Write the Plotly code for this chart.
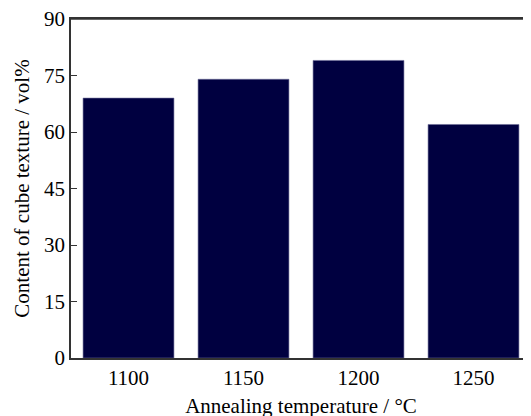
import plotly.graph_objects as go

temperatures = ["1100", "1150", "1200", "1250"]
cube_content = [69, 74, 79, 62]
y_ticks = [0, 15, 30, 45, 60, 75, 90]

fig = go.Figure()
fig.add_trace(go.Bar(
    x=temperatures,
    y=cube_content,
    marker=dict(color="#000040", line=dict(color="#6a6a96", width=0.6)),
))

# the page body has an 8px default margin; margins below compensate for it
font_family = "Liberation Serif, Times New Roman, serif"
fig.update_layout(
    width=531, height=416,
    margin=dict(l=63, r=8, t=11, b=66),
    paper_bgcolor="white", plot_bgcolor="white",
    bargap=0.21,
    showlegend=False,
    font=dict(family=font_family, size=21, color="black"),
)
# top frame line
fig.add_shape(type="line", xref="paper", yref="paper", x0=0, x1=1, y0=1, y1=1,
              line=dict(color="#333333", width=1.5), layer="above")
fig.update_xaxes(
    type="category", automargin=False,
    showline=True, linecolor="#333333", linewidth=1.5, mirror=True,
    ticks="", showgrid=False, ticklabeloverflow="allow",
    title=dict(text="Annealing temperature / °C", font=dict(size=21), standoff=9),
    tickfont=dict(size=21),
)
fig.update_yaxes(
    range=[0, 90], tickvals=y_ticks, automargin=False,
    showline=True, linecolor="#333333", linewidth=1.5,
    ticks="inside", ticklen=6, tickcolor="#333333",
    showgrid=False, zeroline=False, ticklabeloverflow="allow",
    title=dict(text="Content of cube texture / vol%", font=dict(size=21), standoff=9),
    tickfont=dict(size=21),
)
fig.write_html("out.html")
